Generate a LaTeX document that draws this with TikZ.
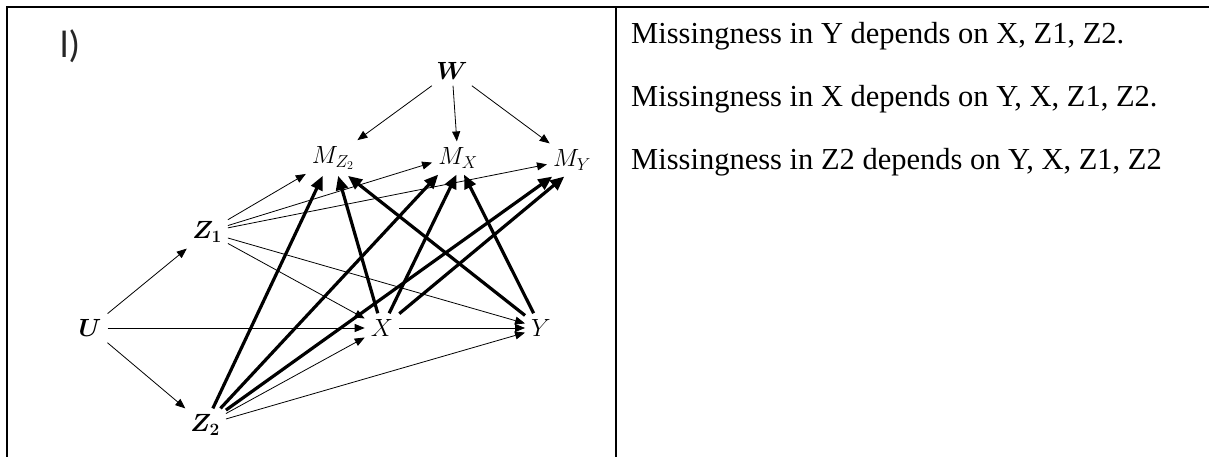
\documentclass[tikz,border=0pt]{standalone}
\usepackage{fontspec}
\setmainfont{Liberation Serif}
\newfontfamily\panelfont{Carlito}
\usepackage{amsmath}
\usetikzlibrary{arrows.meta}
\tikzset{
  var/.style={inner sep=6pt,font=\fontsize{26}{30}\selectfont},
  lightarr/.style={-{Triangle[length=10pt,width=8pt]},line width=0.8pt},
  heavyarr/.style={-{Triangle[length=14pt,width=12pt]},line width=3.2pt},
  note/.style={anchor=west,inner sep=0pt,font=\fontsize{30.5}{36}\selectfont}
}

\begin{document}
\begin{tikzpicture}[x=1pt,y=-1pt]
  \useasboundingbox (0,0) rectangle (1209,457);
  % table frame
  \draw[line width=2pt] (7,457) -- (7,7) -- (1209,7);
  \draw[line width=1.5pt] (616,7) -- (616,457);
  \node[font=\panelfont\fontsize{38}{44}\selectfont,text=black!85] (panel) at (70,46) {l)};

  % variables
  \node[var] (W)  at (452,71)  {$\boldsymbol{W}$};
  \node[var] (MZ) at (333,158) {$M_{Z_2}$};
  \node[var] (MX) at (458,158) {$M_X$};
  \node[var] (MY) at (572,160) {$M_Y$};
  \node[var] (Z1) at (207,232) {$\boldsymbol{Z_1}$};
  \node[var] (U)  at (90,328)  {$\boldsymbol{U}$};
  \node[var] (X)  at (382,328) {$X$};
  \node[var] (Y)  at (541,328) {$Y$};
  \node[var] (Z2) at (205,425) {$\boldsymbol{Z_2}$};

  % ordinary arrows
  \path[draw,lightarr]
    (W)  edge (MZ)
    (W)  edge (MX)
    (W)  edge (MY)
    (U)  edge (Z1)
    (U)  edge (Z2)
    (U)  edge (X)
    (Z1) edge (MZ)
    (Z1) edge (MX.-170)
    (Z1) edge (MY.-170)
    (Z1) edge (X)
    (Z1) edge (Y)
    (Z2) edge (X)
    (Z2) edge (Y)
    (X)  edge (Y);

  % missingness arrows
  \path[draw,heavyarr]
    (Z2) edge (MZ.-120)
    (Z2) edge (MX.-140)
    (Z2) edge (MY.-140)
    (X)  edge (MZ)
    (X)  edge (MX.-95)
    (X)  edge (MY.-115)
    (Y)  edge (MZ.-50)
    (Y)  edge (MX.-70);

  % notes
  \node[note] (noteY) at (631,36)  {Missingness in Y depends on X, Z1, Z2.};
  \node[note] (noteX) at (631,99)  {Missingness in X depends on Y, X, Z1, Z2.};
  \node[note] (noteZ) at (631,162) {Missingness in Z2 depends on Y, X, Z1, Z2};
\end{tikzpicture}
\end{document}
